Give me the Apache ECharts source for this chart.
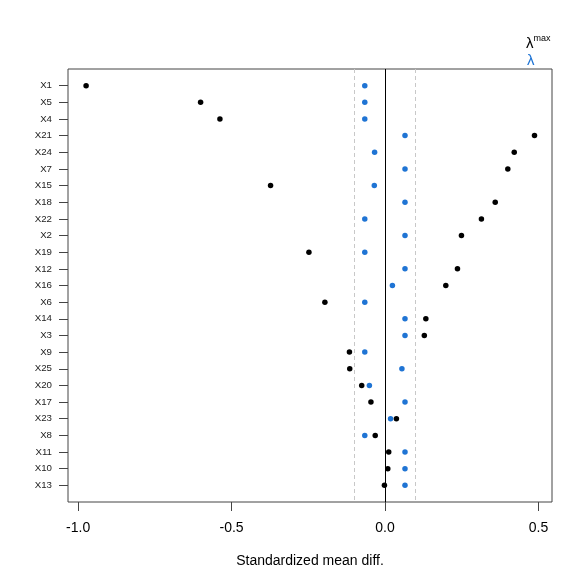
<!DOCTYPE html>
<html>
<head>
<meta charset="utf-8">
<script src="https://cdn.jsdelivr.net/npm/echarts@6/dist/echarts.min.js"></script>
<style>html,body{margin:0;padding:0;background:#fff}#c{width:588px;height:588px}</style>
</head>
<body>
<div id="c"></div>
<script>
const categories = ['X1','X5','X4','X21','X24','X7','X15','X18','X22','X2','X19','X12','X16','X6','X14','X3','X9','X25','X20','X17','X23','X8','X11','X10','X13'];
const lambdaMax = [-0.974,-0.601,-0.538,0.487,0.421,0.400,-0.373,0.359,0.314,0.249,-0.248,0.236,0.198,-0.196,0.133,0.128,-0.116,-0.115,-0.076,-0.046,0.037,-0.032,0.012,0.009,-0.002];
const lambdaVals = [-0.066,-0.066,-0.066,0.065,-0.034,0.065,-0.035,0.065,-0.066,0.065,-0.066,0.065,0.024,-0.066,0.065,0.065,-0.066,0.055,-0.051,0.065,0.018,-0.066,0.065,0.065,0.065];
const xTicks = [-1.0, -0.5, 0.0, 0.5];
const refLines = [-0.1, 0.1];

const rowPos = categories.map((c, i) => i + 1);
const font = 'Liberation Sans, Arial, sans-serif';
const chart = echarts.init(document.getElementById('c'), null, {renderer: 'canvas'});
chart.setOption({
  animation: false,
  backgroundColor: '#fff',
  grid: {left: 68, top: 69, width: 484, height: 433, show: true, borderColor: '#444', borderWidth: 1, backgroundColor: 'transparent'},
  xAxis: {
    type: 'value', min: -1.033, max: 0.544, position: 'bottom',
    axisLine: {show: false, onZero: false},
    splitLine: {show: false},
    axisTick: {show: true, length: 9, lineStyle: {color: '#444'}, customValues: xTicks},
    axisLabel: {customValues: xTicks, formatter: v => v.toFixed(1), color: '#000', fontSize: 14, fontFamily: font, margin: 19},
    name: 'Standardized mean diff.', nameLocation: 'middle', nameGap: 52,
    nameTextStyle: {color: '#000', fontSize: 14, fontFamily: font}
  },
  yAxis: {
    type: 'value', min: 0, max: 26, inverse: true, position: 'left',
    axisLine: {show: false, onZero: false},
    splitLine: {show: false},
    axisTick: {show: true, length: 9, lineStyle: {color: '#444'}, customValues: rowPos},
    axisLabel: {customValues: rowPos, formatter: v => categories[Math.round(v) - 1] || '', color: '#222', fontSize: 9.7, fontFamily: font, margin: 16}
  },
  series: [
    {
      type: 'scatter', name: 'lambda', symbolSize: 5.5,
      itemStyle: {color: '#1f74d4', opacity: 1},
      data: lambdaVals.map((v, i) => [v, rowPos[i]]),
      markLine: {
        silent: true, symbol: 'none', label: {show: false},
        data: [
          {xAxis: 0, lineStyle: {color: '#000', width: 1, type: 'solid'}},
          ...refLines.map(r => ({xAxis: r, lineStyle: {color: '#c8c8c8', width: 1, type: [4, 3]}}))
        ]
      },
      z: 3
    },
    {
      type: 'scatter', name: 'lambdaMax', symbolSize: 5.5,
      itemStyle: {color: '#000', opacity: 1},
      data: lambdaMax.map((v, i) => [v, rowPos[i]]),
      z: 4
    }
  ],
  graphic: [
    {type: 'text', left: 526, top: 34, style: {text: '{a|λ}{s|max}', rich: {a: {fontSize: 15, fill: '#000', fontFamily: font, verticalAlign: 'bottom'}, s: {fontSize: 9, fill: '#000', fontFamily: font, verticalAlign: 'top', padding: [0,0,8,0]}}}},
    {type: 'text', left: 527, top: 53, style: {text: 'λ', fontSize: 15, fill: '#1f74d4', fontFamily: font}}
  ]
});
</script>
</body>
</html>
